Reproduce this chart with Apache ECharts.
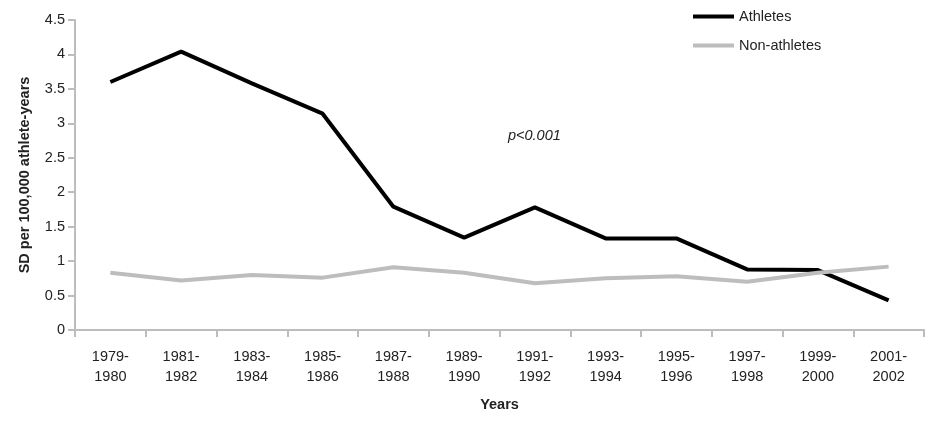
<!DOCTYPE html>
<html>
<head>
<meta charset="utf-8">
<script src="https://cdn.jsdelivr.net/npm/echarts@6/dist/echarts.min.js"></script>
<style>
  html, body { margin: 0; padding: 0; background: #fff; }
  #chart { width: 938px; height: 431px; }
</style>
</head>
<body>
<div id="chart"></div>
<script>
// periods (two-line labels)
const periods = ['1979-\n1980', '1981-\n1982', '1983-\n1984', '1985-\n1986', '1987-\n1988', '1989-\n1990',
  '1991-\n1992', '1993-\n1994', '1995-\n1996', '1997-\n1998', '1999-\n2000', '2001-\n2002']
const athletes = [3.6, 4.04, 3.58, 3.14, 1.79, 1.34, 1.78, 1.33, 1.33, 0.88, 0.87, 0.43]
const nonAthletes = [0.83, 0.72, 0.8, 0.76, 0.91, 0.83, 0.68, 0.75, 0.78, 0.7, 0.83, 0.92]

const font = '"Liberation Sans", Arial, sans-serif'
const axisGrey = '#bdbdbd'

const myChart = echarts.init(document.getElementById('chart'))
myChart.setOption({
  animation: false,
  textStyle: { fontFamily: font },
  grid: { left: 75, right: 14, top: 20, bottom: 101 },
  legend: {
    orient: 'vertical',
    left: 688,
    top: 4,
    itemWidth: 41,
    itemHeight: 4,
    itemGap: 14,
    icon: 'rect',
    textStyle: { fontFamily: font, fontSize: 14.5, color: '#222' },
    data: ['Athletes', 'Non-athletes'],
  },
  graphic: [
    {
      type: 'text',
      left: 508,
      top: 128,
      style: { text: 'p<0.001', font: 'italic 14.5px ' + font, fill: '#222' },
    },
  ],
  xAxis: {
    type: 'category',
    data: periods,
    name: 'Years',
    nameLocation: 'middle',
    nameGap: 67,
    nameTextStyle: { fontFamily: font, fontSize: 14.5, fontWeight: 'bold', color: '#222' },
    axisLine: { show: true, lineStyle: { color: axisGrey, width: 2 } },
    axisTick: { show: true, interval: 0, length: 7, lineStyle: { color: axisGrey, width: 2 } },
    axisLabel: { color: '#222', fontSize: 14.5, lineHeight: 20, margin: 17, interval: 0 },
  },
  yAxis: {
    type: 'value',
    min: 0,
    max: 4.5,
    interval: 0.5,
    name: 'SD per 100,000 athlete-years',
    nameLocation: 'middle',
    nameGap: 43,
    nameTextStyle: { fontFamily: font, fontSize: 14.5, fontWeight: 'bold', color: '#222' },
    axisLine: { show: true, lineStyle: { color: axisGrey, width: 2 } },
    axisTick: { show: true, length: 7, lineStyle: { color: axisGrey, width: 2 } },
    axisLabel: { color: '#222', fontSize: 14.5, margin: 10 },
    splitLine: { show: false },
  },
  series: [
    {
      name: 'Athletes',
      type: 'line',
      data: athletes,
      symbol: 'none',
      lineStyle: { color: '#000', width: 4 },
      itemStyle: { color: '#000' },
    },
    {
      name: 'Non-athletes',
      type: 'line',
      data: nonAthletes,
      symbol: 'none',
      lineStyle: { color: '#bdbdbd', width: 4 },
      itemStyle: { color: '#bdbdbd' },
    },
  ],
})
</script>
</body>
</html>
